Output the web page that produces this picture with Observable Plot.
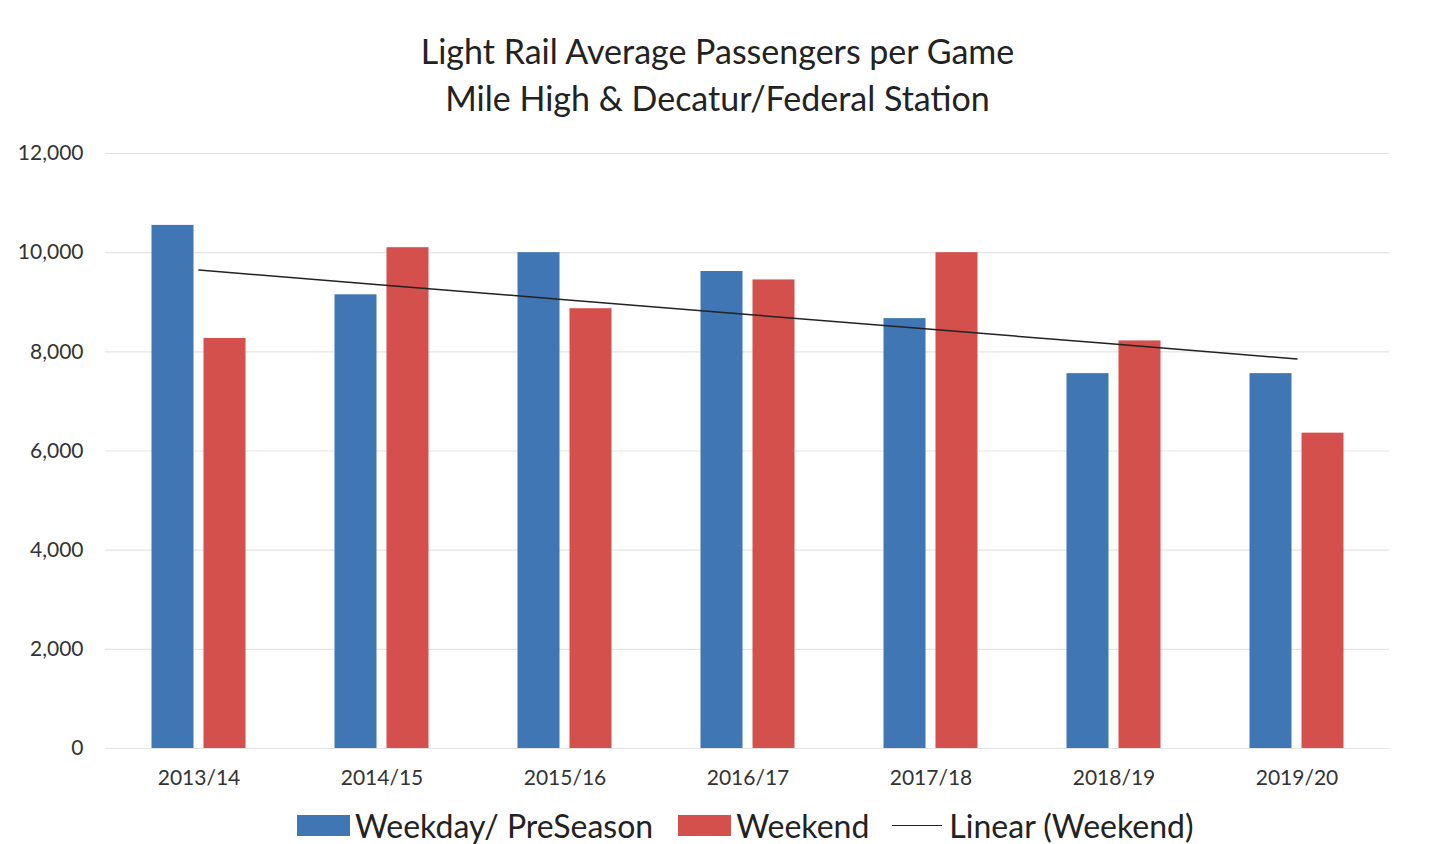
<!DOCTYPE html>
<html><head><meta charset="utf-8">
<script src="https://cdn.jsdelivr.net/npm/d3@7"></script>
<script src="https://cdn.jsdelivr.net/npm/@observablehq/plot@0.6"></script>
<style>
body{margin:0;background:#fff;font-family:Lato,"Open Sans",sans-serif;width:1435px;overflow:hidden;}
#title{height:125px;box-sizing:border-box;padding-top:27px;text-align:center;font-size:34px;line-height:47px;color:#222;}
#chart svg{display:block;}
#legend{display:flex;justify-content:flex-start;align-items:center;height:56px;padding-top:8px;font-size:32px;color:#222;padding-left:297px;box-sizing:border-box;}
.sw{width:53px;height:21px;margin-right:5px;}
.ln{width:50px;height:0;border-top:1.5px solid #222;margin-right:7px;}
</style></head>
<body>
<div id="title">Light Rail Average Passengers per Game<br>Mile High &amp; Decatur/Federal Station</div>
<div id="chart"></div>
<div id="legend"></div>
<script>
const seasons = ["2013/14","2014/15","2015/16","2016/17","2017/18","2018/19","2019/20"];
const weekday = [10550, 9150, 10000, 9620, 8670, 7560, 7560];
const weekend = [8270, 10100, 8870, 9450, 10000, 8220, 6360];
const yTicks = [0, 2000, 4000, 6000, 8000, 10000, 12000];
const seriesNames = ["Weekday/ PreSeason", "Weekend", "Linear (Weekend)"];
const colors = ["#3f76b3", "#d3504d", "#222222"];

// linear regression of weekend values
const xs = seasons.map((_, i) => i + 1);
const mx = d3.mean(xs), my = d3.mean(weekend);
const slope = d3.sum(xs, (x, i) => (x - mx) * (weekend[i] - my)) / d3.sum(xs, x => (x - mx) ** 2);
const icpt = my - slope * mx;
const trend = seasons.map((s, i) => ({season: s, value: icpt + slope * xs[i]}));

const wd = seasons.map((s, i) => ({season: s, value: weekday[i]}));
const we = seasons.map((s, i) => ({season: s, value: weekend[i]}));

const chart = Plot.plot({
  width: 1435,
  height: 668,
  marginLeft: 105,
  marginRight: 46,
  marginTop: 28,
  marginBottom: 45,
  style: {fontFamily: "Lato, 'Open Sans', sans-serif", fontSize: "21px", color: "#333", background: "#fff"},
  x: {domain: seasons, padding: 0, label: null, tickSize: 0, tickPadding: 22},
  y: {domain: [0, 12000], ticks: yTicks, tickFormat: d3.format(","), label: null, tickSize: 0, tickPadding: 22},
  marks: [
    Plot.ruleY(yTicks, {stroke: "#e4e4e4", strokeWidth: 1.2}),
    Plot.barY(wd, {x: "season", y: "value", fill: colors[0], insetLeft: 44.5, insetRight: 96.5}),
    Plot.barY(we, {x: "season", y: "value", fill: colors[1], insetLeft: 96.5, insetRight: 44.5}),
    Plot.lineY(trend, {x: "season", y: "value", stroke: colors[2], strokeWidth: 1.5})
  ]
});
document.getElementById("chart").appendChild(chart);
d3.select(chart).selectAll("[aria-label='y-axis tick label'] text, [aria-label='x-axis tick label'] text").attr("fill", "#333");

const leg = d3.select("#legend");
seriesNames.forEach((name, i) => {
  const item = leg.append("div").style("display", "flex").style("align-items", "center").style("margin-right", i === 0 ? "25px" : "23px");
  if (i < 2) item.append("div").attr("class", "sw").style("background", colors[i]);
  else item.append("div").attr("class", "ln");
  item.append("span").text(name);
});
</script>
</body></html>
